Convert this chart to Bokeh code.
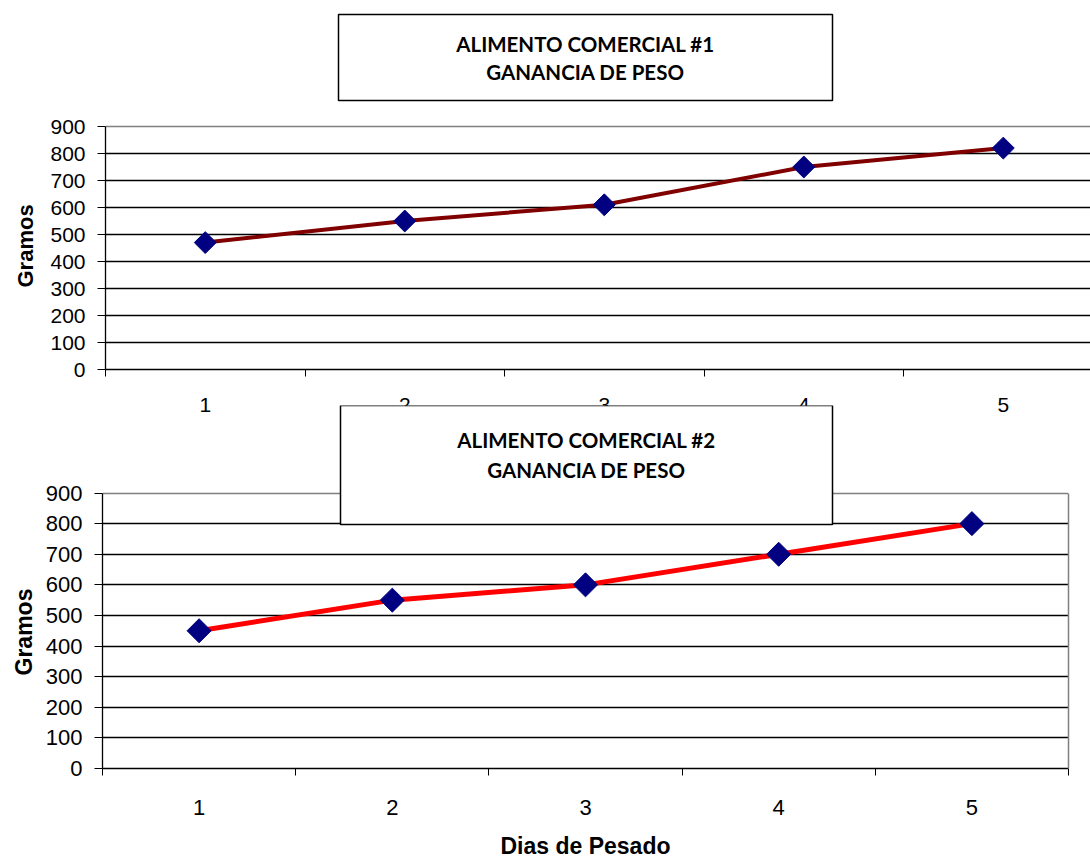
import math
from bokeh.plotting import figure
from bokeh.models import (BoxAnnotation, Label, FixedTicker, Range1d, Grid,
                          LinearAxis, Title)
from bokeh.embed import file_html
from bokeh.resources import INLINE

# ---- data ----
dias = [1, 2, 3, 4, 5]
dia_labels = ["1", "2", "3", "4", "5"]
gramos_alimento1 = [470, 550, 610, 750, 820]
gramos_alimento2 = [450, 550, 600, 700, 800]
y_ticks = [0, 100, 200, 300, 400, 500, 600, 700, 800, 900]
titulo1 = ["ALIMENTO COMERCIAL #1", "GANANCIA DE PESO"]
titulo2 = ["ALIMENTO COMERCIAL #2", "GANANCIA DE PESO"]
y_title = "Gramos"
x_title = "Dias de Pesado"

TICK_FONT = "Liberation Sans"
BOX_FONT = "Lato"
Y_MAX = y_ticks[-1]


def style_axes(p, tick_size, label_size, x_standoff, y_standoff,
               ytitle_offset, ytitle_standoff):
    xa = p.xaxis[0]
    ya = p.yaxis[0]
    bounds_ticks = [i + 0.5 for i in range(0, 6)]
    xa.ticker = FixedTicker(ticks=dias, minor_ticks=bounds_ticks)
    xa.major_label_overrides = {d: l for d, l in zip(dias, dia_labels)}
    xa.major_tick_line_color = None
    xa.major_tick_out = 0
    xa.major_tick_in = 0
    xa.minor_tick_line_color = "black"
    xa.minor_tick_out = 7
    xa.minor_tick_in = 0
    xa.major_label_standoff = x_standoff
    xa.axis_line_color = "black"
    xa.axis_line_width = 1.3
    xa.major_label_text_font = TICK_FONT
    xa.major_label_text_font_size = f"{tick_size}px"
    xa.major_label_text_color = "black"

    ya.ticker = FixedTicker(ticks=y_ticks)
    ya.bounds = (0, Y_MAX)
    ya.major_tick_out = 8
    ya.major_tick_in = 0
    ya.major_tick_line_color = "black"
    ya.minor_tick_line_color = None
    ya.axis_line_color = "black"
    ya.axis_line_width = 1.3
    ya.major_label_standoff = y_standoff
    ya.major_label_text_font = TICK_FONT
    ya.major_label_text_font_size = f"{tick_size}px"
    ya.major_label_text_color = "black"

    # y-axis title, centred on the 0-900 span (not on the whole frame)
    p.add_layout(Title(text=y_title, align="left", offset=ytitle_offset,
                       standoff=ytitle_standoff, text_font=TICK_FONT,
                       text_font_style="bold",
                       text_font_size=f"{label_size}px", text_color="black"),
                 "left")


def grids(p):
    p.xgrid.grid_line_color = None
    p.ygrid.ticker = FixedTicker(ticks=y_ticks[:-1])
    p.ygrid.grid_line_color = "black"
    p.ygrid.grid_line_width = 1.3
    p.add_layout(Grid(dimension=1, ticker=FixedTicker(ticks=[Y_MAX]),
                      grid_line_color="#808080", grid_line_width=1.5))


def title_box(p, left, right, bottom, top, lines, baselines, xc):
    p.add_layout(BoxAnnotation(left=left, right=right, bottom=bottom, top=top,
                               left_units="screen", right_units="screen",
                               top_units="screen", bottom_units="screen",
                               fill_color="white", fill_alpha=1.0,
                               line_color="black", line_alpha=1.0,
                               line_width=1.5, level="overlay"))
    for txt, yb in zip(lines, baselines):
        p.add_layout(Label(x=xc, y=yb, x_units="screen", y_units="screen",
                           text=txt, text_align="center",
                           text_baseline="alphabetic",
                           text_font=BOX_FONT, text_font_style="bold",
                           text_font_size="20.5px", text_color="black",
                           level="overlay"))


# ---- chart 1 ----  (frame spans the whole height above the x axis)
p1 = figure(width=1090, height=415, output_backend="svg", toolbar_location=None,
            title=None,
            x_range=Range1d(0.5, 5.437), y_range=Range1d(0, Y_MAX * 369 / 243),
            min_border_left=105, min_border_right=0, min_border_top=0,
            min_border_bottom=46)
p1.outline_line_color = None
grids(p1)
style_axes(p1, 21, 22, 21, 12, 82, 20)
p1.line(dias, gramos_alimento1, line_color="#800000", line_width=4)
p1.scatter(dias, gramos_alimento1, marker="square", angle=math.pi / 4,
           size=15.5, fill_color="#000080", line_color="#000080")
title_box(p1, 233, 727, 269, 355, titulo1, [326, 298], 480)

# ---- chart 2 ----
p2 = figure(width=1090, height=456, output_backend="svg", toolbar_location=None,
            title=None,
            x_range=Range1d(0.5, 5.5), y_range=Range1d(0, Y_MAX * 365 / 277),
            min_border_left=102, min_border_right=22, min_border_top=0,
            min_border_bottom=91)
p2.background_fill_color = None
p2.border_fill_color = None
p2.outline_line_color = None
grids(p2)
style_axes(p2, 22, 23, 24, 12, 93, 12)
right_axis = LinearAxis(bounds=(0, Y_MAX), ticker=FixedTicker(ticks=[]),
                        axis_line_color="#808080", axis_line_width=1.5,
                        major_tick_line_color=None, minor_tick_line_color=None,
                        major_tick_out=0, major_tick_in=0,
                        minor_tick_out=0, minor_tick_in=0,
                        major_label_standoff=0,
                        major_label_text_font_size="0px")
p2.add_layout(right_axis, "right")
p2.xaxis[0].axis_label = x_title
p2.xaxis[0].axis_label_text_font = TICK_FONT
p2.xaxis[0].axis_label_text_font_style = "bold"
p2.xaxis[0].axis_label_text_font_size = "23px"
p2.xaxis[0].axis_label_text_color = "black"
p2.xaxis[0].axis_label_standoff = 15
p2.line(dias, gramos_alimento2, line_color="#FF0000", line_width=5)
p2.scatter(dias, gramos_alimento2, marker="square", angle=math.pi / 4,
           size=17, fill_color="#000080", line_color="#000080")
title_box(p2, 238, 730, 244, 363, titulo2, [329, 299], 484)
p2.margin = (-10, 0, 0, 0)

open("out.html", "w").write(file_html([p1, p2], INLINE))
